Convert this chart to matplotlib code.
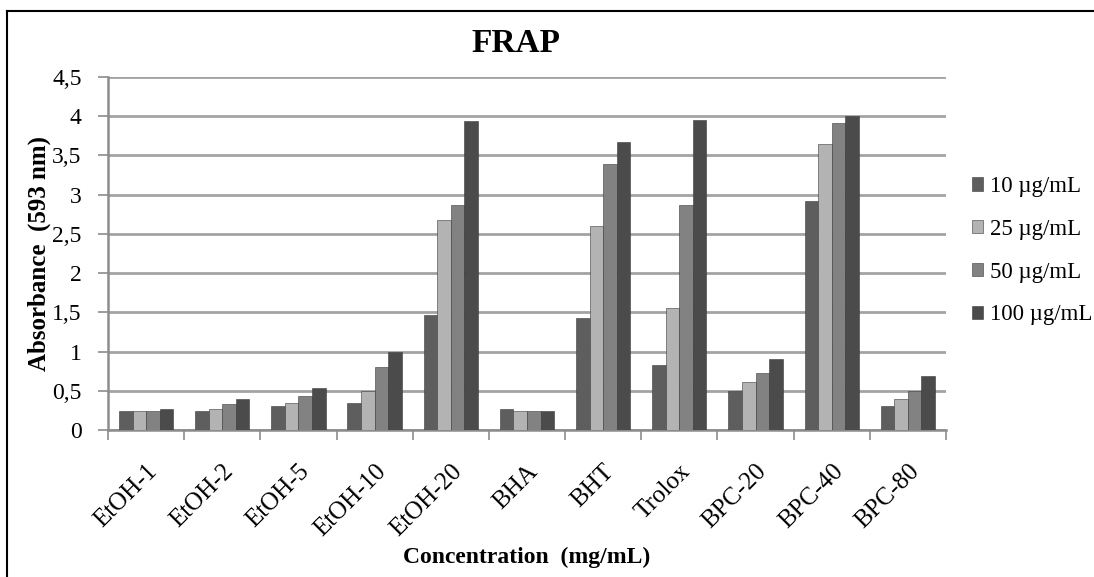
import numpy as np
import matplotlib.pyplot as plt
from matplotlib.ticker import FixedLocator, FuncFormatter

# FRAP absorbance data
categories = ["EtOH-1", "EtOH-2", "EtOH-5", "EtOH-10", "EtOH-20", "BHA",
              "BHT", "Trolox", "BPC-20", "BPC-40", "BPC-80"]
series_names = ["10 µg/mL", "25 µg/mL", "50 µg/mL", "100 µg/mL"]

conc_10 = [0.24, 0.24, 0.30, 0.35, 1.47, 0.27, 1.43, 0.83, 0.50, 2.92, 0.30]
conc_25 = [0.24, 0.27, 0.35, 0.50, 2.68, 0.24, 2.60, 1.55, 0.61, 3.64, 0.40]
conc_50 = [0.24, 0.33, 0.43, 0.80, 2.87, 0.24, 3.39, 2.87, 0.72, 3.91, 0.50]
conc_100 = [0.27, 0.40, 0.54, 0.99, 3.94, 0.24, 3.67, 3.95, 0.91, 4.00, 0.69]

colors = ["#5e5e5e", "#b3b3b3", "#828282", "#4b4b4b"]


def main():
    plt.rcParams["font.family"] = ["Liberation Serif", "DejaVu Serif"]

    fig = plt.figure(figsize=(10.94, 5.77), dpi=100)
    ax = fig.add_axes([0.0987, 0.2548, 0.7660, 0.6118])

    x = np.arange(len(categories))
    width = 0.178
    all_series = [conc_10, conc_25, conc_50, conc_100]
    for i, (vals, name) in enumerate(zip(all_series, series_names)):
        offset = (i - 1.5) * width
        ax.bar(x + offset, vals, width, color=colors[i], label=name,
               edgecolor="#3a3a3a", linewidth=0.4, zorder=3)

    # axes / grid
    ax.set_xlim(-0.5, len(categories) - 0.5)
    ax.set_ylim(0, 4.5)
    ax.set_yticks(np.arange(0, 4.51, 0.5))
    ax.yaxis.set_major_formatter(FuncFormatter(
        lambda v, p: ("%g" % v).replace(".", ",")))
    ax.yaxis.grid(True, color="#a3a3a3", linewidth=2.0, zorder=0)
    ax.set_axisbelow(True)

    ax.set_xticks(x)
    ax.set_xticklabels(categories, rotation=45, ha="right",
                       rotation_mode="anchor", fontsize=18)
    ax.tick_params(axis="x", which="major", length=0, pad=22)
    ax.xaxis.set_minor_locator(FixedLocator(np.arange(-0.5, len(categories), 1)))
    ax.tick_params(axis="x", which="minor", length=7, color="#8c8c8c", width=1.2)
    ax.tick_params(axis="y", length=7, color="#8c8c8c", width=1.2,
                   labelsize=17, pad=12)

    for side in ["top", "right"]:
        ax.spines[side].set_visible(False)
    for side in ["left", "bottom"]:
        ax.spines[side].set_color("#8c8c8c")
        ax.spines[side].set_linewidth(1.8)

    ax.set_title("FRAP", fontsize=24, fontweight="bold", pad=18, x=0.487)
    ax.set_ylabel("Absorbance  (593 nm)", fontsize=18, fontweight="bold",
                  labelpad=1)
    ax.set_xlabel("Concentration  (mg/mL)", fontsize=17, fontweight="bold",
                  labelpad=4)

    ax.legend(loc="upper left", bbox_to_anchor=(1.02, 0.745), frameon=False,
              fontsize=16.5, handlelength=0.5, handleheight=0.5,
              handletextpad=0.3, labelspacing=0.95, borderaxespad=0)

    # frame lines of the original picture
    fig.add_artist(plt.Line2D([7 / 1094, 7 / 1094], [0, 1 - 11 / 577],
                              color="black", linewidth=1.5))
    fig.add_artist(plt.Line2D([7 / 1094, 1], [1 - 11 / 577, 1 - 11 / 577],
                              color="black", linewidth=1.5))

    fig.savefig("out.png", dpi=100)


if __name__ == "__main__":
    main()
